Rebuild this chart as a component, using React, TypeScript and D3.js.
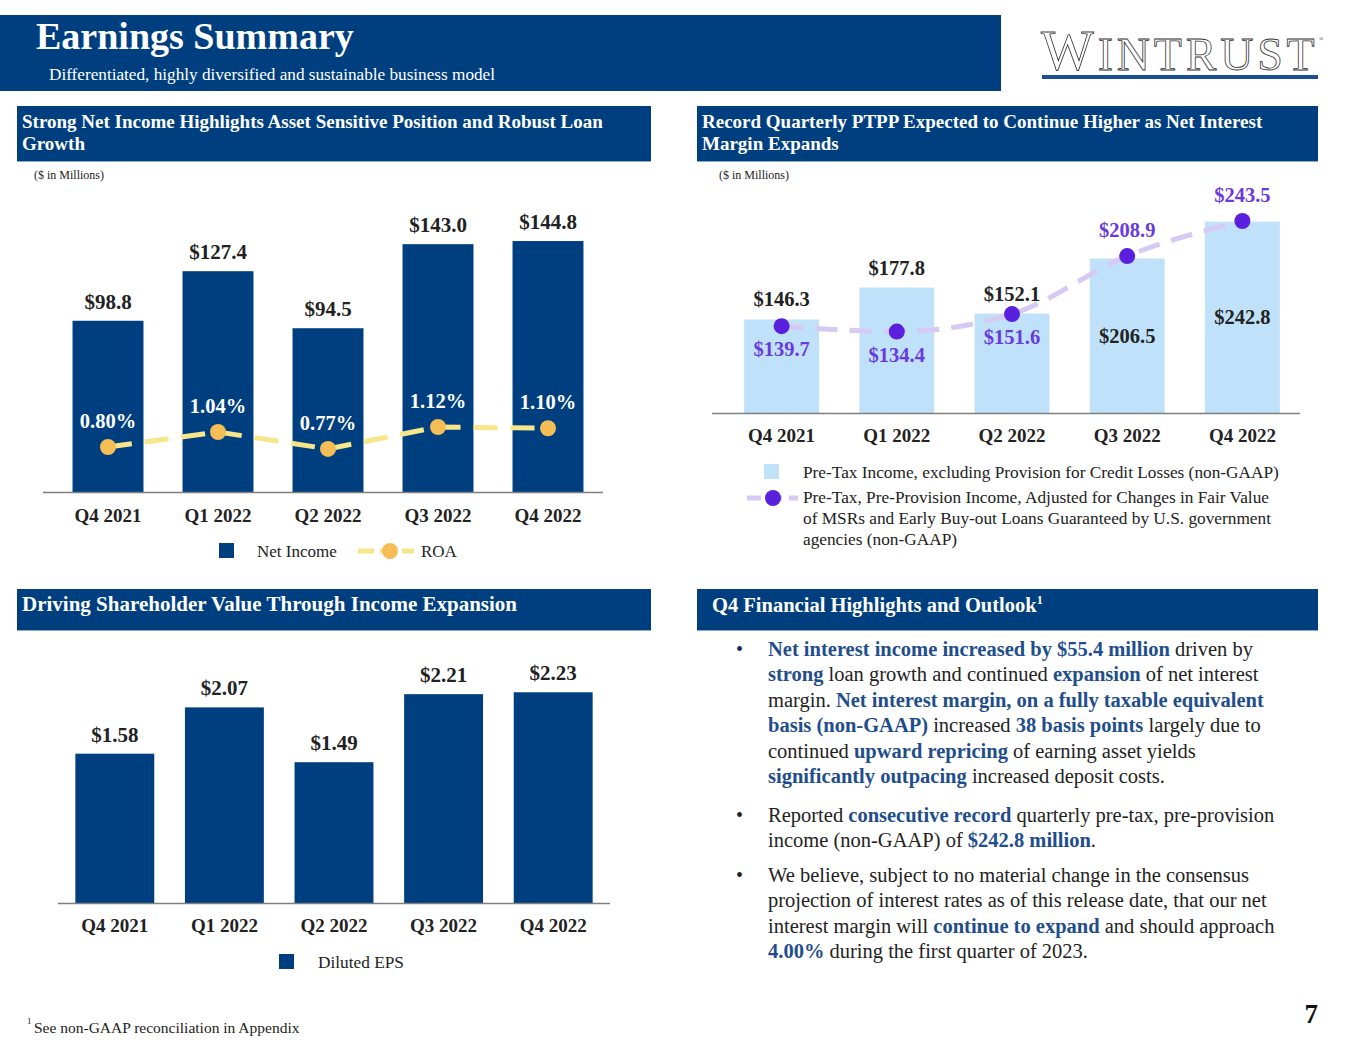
import * as d3 from "d3";
import React, { useEffect, useRef } from "react";

// data
const quarters = ["Q4 2021", "Q1 2022", "Q2 2022", "Q3 2022", "Q4 2022"];
const netIncome = [98.8, 127.4, 94.5, 143.0, 144.8];
const roa = [0.8, 1.04, 0.77, 1.12, 1.1];
const pretaxIncome = [146.3, 177.8, 152.1, 206.5, 242.8];
const ptppAdjusted = [139.7, 134.4, 151.6, 208.9, 243.5];
const dilutedEps = [1.58, 2.07, 1.49, 2.21, 2.23];

const ptppLegend = [
  "Pre-Tax, Pre-Provision Income, Adjusted for Changes in Fair Value",
  "of MSRs and Early Buy-out Loans Guaranteed by U.S. government",
  "agencies (non-GAAP)",
];

type Seg = [string, boolean];
const bullets: Seg[][][] = [
  [
    [["Net interest income increased by $55.4 million", true], [" driven by", false]],
    [["strong", true], [" loan growth and continued ", false], ["expansion", true], [" of net interest", false]],
    [["margin. ", false], ["Net interest margin, on a fully taxable equivalent", true]],
    [["basis (non-GAAP)", true], [" increased ", false], ["38 basis points", true], [" largely due to", false]],
    [["continued ", false], ["upward repricing", true], [" of earning asset yields", false]],
    [["significantly outpacing", true], [" increased deposit costs.", false]],
  ],
  [
    [["Reported ", false], ["consecutive record", true], [" quarterly pre-tax, pre-provision", false]],
    [["income (non-GAAP) of ", false], ["$242.8 million", true], [".", false]],
  ],
  [
    [["We believe, subject to no material change in the consensus", false]],
    [["projection of interest rates as of this release date, that our net", false]],
    [["interest margin will ", false], ["continue to expand", true], [" and should approach", false]],
    [["4.00%", true], [" during the first quarter of 2023.", false]],
  ],
];

const FONT = "'Liberation Serif', 'Times New Roman', serif";
const NAVY = "#003f7f";
const LIGHT_BLUE = "#bfe2fa";
const PURPLE = "#5a20de";
const PURPLE_TEXT = "#6a3ae0";
const LAVENDER = "#d6c9f3";
const ROA_DOT = "#f5bd55";
const ROA_LINE = "#f8e68a";
const HILITE = "#1f4e8c";
const INK = "#222222";

type Sel = d3.Selection<SVGGElement, unknown, null, undefined>;

const App: React.FC = () => {
  const svgRef = useRef<SVGSVGElement>(null);

  useEffect(() => {
    const svg = d3.select(svgRef.current);
    svg.selectAll("*").remove();
    const root = svg.append("g").attr("font-family", FONT);

    drawHeader(root);
    drawNetIncome(root);
    drawPtpp(root);
    drawEps(root);
    drawHighlights(root);

    root
      .append("text")
      .attr("x", 27)
      .attr("y", 1024)
      .attr("font-size", 9)
      .attr("fill", INK)
      .text("1");
    root
      .append("text")
      .attr("x", 34)
      .attr("y", 1033)
      .attr("font-size", 15.5)
      .attr("fill", INK)
      .text("See non-GAAP reconciliation in Appendix");
    root
      .append("text")
      .attr("x", 1318)
      .attr("y", 1023)
      .attr("text-anchor", "end")
      .attr("font-size", 27)
      .attr("font-weight", "bold")
      .attr("fill", "#111")
      .text("7");
  }, []);

  const sectionBar = (
    g: Sel,
    x: number,
    y: number,
    w: number,
    h: number,
    lines: string[],
    size: number
  ) => {
    g.append("rect").attr("x", x).attr("y", y).attr("width", w).attr("height", h).attr("fill", NAVY);
    g.append("rect").attr("x", x).attr("y", y + h - 1).attr("width", w).attr("height", 1).attr("fill", "#8fa9c8");
    lines.forEach((t, i) => {
      g.append("text")
        .attr("x", x + 5)
        .attr("y", y + 22 + i * 22)
        .attr("fill", "white")
        .attr("font-weight", "bold")
        .attr("font-size", size)
        .text(t);
    });
  };

  const drawHeader = (g: Sel) => {
    g.append("rect").attr("x", 0).attr("y", 15).attr("width", 1001).attr("height", 76).attr("fill", NAVY);
    g.append("text")
      .attr("x", 36)
      .attr("y", 49)
      .attr("fill", "white")
      .attr("font-weight", "bold")
      .attr("font-size", 38)
      .text("Earnings Summary");
    g.append("text")
      .attr("x", 49)
      .attr("y", 80)
      .attr("fill", "white")
      .attr("font-size", 17.2)
      .text("Differentiated, highly diversified and sustainable business model");

    // logo
    const logo = g
      .append("text")
      .attr("x", 1041)
      .attr("y", 70)
      .attr("fill", "white")
      .attr("stroke", "#333")
      .attr("stroke-width", 0.8)
      .attr("font-size", 46);
    logo.append("tspan").attr("font-size", 56).attr("letter-spacing", 3.8).text("W");
    logo.append("tspan").attr("letter-spacing", 3.8).text("INTRUS");
    logo.append("tspan").text("T");
    g.append("text").attr("x", 1319).attr("y", 41).attr("font-size", 6).attr("fill", "#444").text("®");
    g.append("rect").attr("x", 1042).attr("y", 75).attr("width", 276).attr("height", 4).attr("fill", "#1c4f91");

    sectionBar(
      g,
      17,
      106,
      634,
      56,
      ["Strong Net Income Highlights Asset Sensitive Position and Robust Loan", "Growth"],
      19
    );
    sectionBar(
      g,
      697,
      106,
      621,
      56,
      ["Record Quarterly PTPP Expected to Continue Higher as Net Interest", "Margin Expands"],
      19
    );
    sectionBar(g, 17, 589, 634, 42, ["Driving Shareholder Value Through Income Expansion"], 21);
    sectionBar(g, 697, 589, 621, 42, [], 21);
    const t = g
      .append("text")
      .attr("x", 712)
      .attr("y", 612)
      .attr("fill", "white")
      .attr("font-weight", "bold")
      .attr("font-size", 20.5);
    t.append("tspan").text("Q4 Financial Highlights and Outlook");
    t.append("tspan").attr("font-size", 12).attr("dy", -8).text("1");

    [34, 719].forEach((x) => {
      g.append("text").attr("x", x).attr("y", 179).attr("font-size", 12).attr("fill", INK).text("($ in Millions)");
    });
  };

  const axisLabels = (g: Sel, x: d3.ScaleBand<string>, y: number) => {
    g.selectAll(null)
      .data(quarters)
      .enter()
      .append("text")
      .attr("x", (d: string) => (x(d) as number) + x.bandwidth() / 2)
      .attr("y", y)
      .attr("text-anchor", "middle")
      .attr("font-weight", "bold")
      .attr("font-size", 19)
      .attr("fill", INK)
      .text((d: string) => d);
  };

  const drawNetIncome = (g: Sel) => {
    const x = d3.scaleBand().domain(quarters).range([53, 603]).paddingInner(0.355).paddingOuter(0.1775);
    const y = d3.scaleLinear().domain([0, 160]).range([492, 214.7]);
    const yRoa = d3.scaleLinear().domain([0, 1.2]).range([497, 422]);
    const cx = (i: number) => (x(quarters[i]) as number) + x.bandwidth() / 2;

    g.selectAll(null)
      .data(netIncome)
      .enter()
      .append("rect")
      .attr("x", (_: number, i: number) => x(quarters[i]) as number)
      .attr("y", (d: number) => y(d))
      .attr("width", x.bandwidth())
      .attr("height", (d: number) => y(0) - y(d))
      .attr("fill", NAVY);

    g.append("line").attr("x1", 43).attr("x2", 603).attr("y1", 492.5).attr("y2", 492.5).attr("stroke", "#7f7f7f").attr("stroke-width", 1.5);

    g.selectAll(null)
      .data(netIncome)
      .enter()
      .append("text")
      .attr("x", (_: number, i: number) => cx(i))
      .attr("y", (d: number) => y(d) - 12)
      .attr("text-anchor", "middle")
      .attr("font-weight", "bold")
      .attr("font-size", 21)
      .attr("fill", INK)
      .text((d: number) => `$${d.toFixed(1)}`);

    const line = d3
      .line<number>()
      .x((_, i) => cx(i))
      .y((d) => yRoa(d));
    g.append("path")
      .attr("d", line(roa))
      .attr("fill", "none")
      .attr("stroke", ROA_LINE)
      .attr("stroke-width", 5)
      .attr("stroke-dasharray", "24,13");
    g.selectAll(null)
      .data(roa)
      .enter()
      .append("circle")
      .attr("cx", (_: number, i: number) => cx(i))
      .attr("cy", (d: number) => yRoa(d))
      .attr("r", 8)
      .attr("fill", ROA_DOT);
    g.selectAll(null)
      .data(roa)
      .enter()
      .append("text")
      .attr("x", (_: number, i: number) => cx(i))
      .attr("y", (d: number) => yRoa(d) - 19)
      .attr("text-anchor", "middle")
      .attr("font-weight", "bold")
      .attr("font-size", 20.5)
      .attr("fill", "white")
      .text((d: number) => `${d.toFixed(2)}%`);

    axisLabels(g, x, 522);

    // legend
    g.append("rect").attr("x", 219).attr("y", 543).attr("width", 15).attr("height", 15).attr("fill", NAVY);
    g.append("text").attr("x", 257).attr("y", 557).attr("font-size", 17).attr("fill", INK).text("Net Income");
    g.append("line").attr("x1", 358).attr("x2", 414).attr("y1", 551).attr("y2", 551)
      .attr("stroke", ROA_LINE).attr("stroke-width", 5).attr("stroke-dasharray", "16,6");
    g.append("circle").attr("cx", 390).attr("cy", 551).attr("r", 8).attr("fill", ROA_DOT);
    g.append("text").attr("x", 421).attr("y", 557).attr("font-size", 17).attr("fill", INK).text("ROA");
  };

  const drawPtpp = (g: Sel) => {
    const x = d3.scaleBand().domain(quarters).range([724, 1300]).paddingInner(0.35).paddingOuter(0.175);
    const y = d3.scaleLinear().domain([54, 250]).range([413, 214.4]);
    const cx = (i: number) => (x(quarters[i]) as number) + x.bandwidth() / 2;

    g.selectAll(null)
      .data(pretaxIncome)
      .enter()
      .append("rect")
      .attr("x", (_: number, i: number) => x(quarters[i]) as number)
      .attr("y", (d: number) => y(d))
      .attr("width", x.bandwidth())
      .attr("height", (d: number) => y(54) - y(d))
      .attr("fill", LIGHT_BLUE);

    g.append("line").attr("x1", 712).attr("x2", 1300).attr("y1", 413.5).attr("y2", 413.5).attr("stroke", "#7f7f7f").attr("stroke-width", 1.5);

    // bar labels: above the bar unless the line point sits above it
    g.selectAll(null)
      .data(pretaxIncome)
      .enter()
      .append("text")
      .attr("x", (_: number, i: number) => cx(i))
      .attr("y", (d: number, i: number) =>
        ptppAdjusted[i] > d ? (y(d) + y(54)) / 2 + 7 : y(d) - 13
      )
      .attr("text-anchor", "middle")
      .attr("font-weight", "bold")
      .attr("font-size", 20.5)
      .attr("fill", INK)
      .text((d: number) => `$${d.toFixed(1)}`);

    const line = d3
      .line<number>()
      .x((_, i) => cx(i))
      .y((d) => y(d))
      .curve(d3.curveMonotoneX);
    g.append("path")
      .attr("d", line(ptppAdjusted))
      .attr("fill", "none")
      .attr("stroke", LAVENDER)
      .attr("stroke-width", 5)
      .attr("stroke-dasharray", "22,12");
    g.selectAll(null)
      .data(ptppAdjusted)
      .enter()
      .append("circle")
      .attr("cx", (_: number, i: number) => cx(i))
      .attr("cy", (d: number) => y(d))
      .attr("r", 8)
      .attr("fill", PURPLE);
    g.selectAll(null)
      .data(ptppAdjusted)
      .enter()
      .append("text")
      .attr("x", (_: number, i: number) => cx(i))
      .attr("y", (d: number, i: number) => (d > pretaxIncome[i] ? y(d) - 19 : y(d) + 30))
      .attr("text-anchor", "middle")
      .attr("font-weight", "bold")
      .attr("font-size", 20.5)
      .attr("fill", PURPLE_TEXT)
      .text((d: number) => `$${d.toFixed(1)}`);

    axisLabels(g, x, 442);

    // legend
    g.append("rect").attr("x", 764).attr("y", 464).attr("width", 15).attr("height", 15).attr("fill", LIGHT_BLUE);
    g.append("text").attr("x", 803).attr("y", 478).attr("font-size", 17.3).attr("fill", INK)
      .text("Pre-Tax Income, excluding Provision for Credit Losses (non-GAAP)");
    g.append("line").attr("x1", 747).attr("x2", 798).attr("y1", 498).attr("y2", 498)
      .attr("stroke", LAVENDER).attr("stroke-width", 5).attr("stroke-dasharray", "14,7");
    g.append("circle").attr("cx", 773).attr("cy", 498).attr("r", 8).attr("fill", PURPLE);
    ptppLegend.forEach((t, i) => {
      g.append("text").attr("x", 803).attr("y", 503 + i * 21).attr("font-size", 17.3).attr("fill", INK).text(t);
    });
  };

  const drawEps = (g: Sel) => {
    const x = d3.scaleBand().domain(quarters).range([60, 608]).paddingInner(0.28).paddingOuter(0.14);
    const y = d3.scaleLinear().domain([0, 2.5]).range([903, 666.75]);
    const cx = (i: number) => (x(quarters[i]) as number) + x.bandwidth() / 2;

    g.selectAll(null)
      .data(dilutedEps)
      .enter()
      .append("rect")
      .attr("x", (_: number, i: number) => x(quarters[i]) as number)
      .attr("y", (d: number) => y(d))
      .attr("width", x.bandwidth())
      .attr("height", (d: number) => y(0) - y(d))
      .attr("fill", NAVY);

    g.append("line").attr("x1", 58).attr("x2", 610).attr("y1", 903.5).attr("y2", 903.5).attr("stroke", "#7f7f7f").attr("stroke-width", 1.5);

    g.selectAll(null)
      .data(dilutedEps)
      .enter()
      .append("text")
      .attr("x", (_: number, i: number) => cx(i))
      .attr("y", (d: number) => y(d) - 12)
      .attr("text-anchor", "middle")
      .attr("font-weight", "bold")
      .attr("font-size", 21)
      .attr("fill", INK)
      .text((d: number) => `$${d.toFixed(2)}`);

    axisLabels(g, x, 932);

    g.append("rect").attr("x", 279).attr("y", 954).attr("width", 15).attr("height", 15).attr("fill", NAVY);
    g.append("text").attr("x", 318).attr("y", 968).attr("font-size", 17.3).attr("fill", INK).text("Diluted EPS");
  };

  const drawHighlights = (g: Sel) => {
    const starts = [656, 822, 882];
    bullets.forEach((lines, b) => {
      g.append("text")
        .attr("x", 736)
        .attr("y", starts[b])
        .attr("font-size", 20)
        .attr("fill", b === 0 ? "#0d2a55" : INK)
        .text("•");
      lines.forEach((segs, li) => {
        const t = g
          .append("text")
          .attr("x", 768)
          .attr("y", starts[b] + li * 25.4)
          .attr("font-size", 20.5)
          .style("white-space", "pre");
        segs.forEach(([s, bold]) => {
          t.append("tspan")
            .attr("font-weight", bold ? "bold" : "normal")
            .attr("fill", bold ? HILITE : INK)
            .text(s);
        });
      });
    });
  };

  return (
    <svg
      ref={svgRef}
      width={1365}
      height={1055}
      style={{ position: "absolute", left: 0, top: 0, background: "white" }}
    />
  );
};

export default App;
